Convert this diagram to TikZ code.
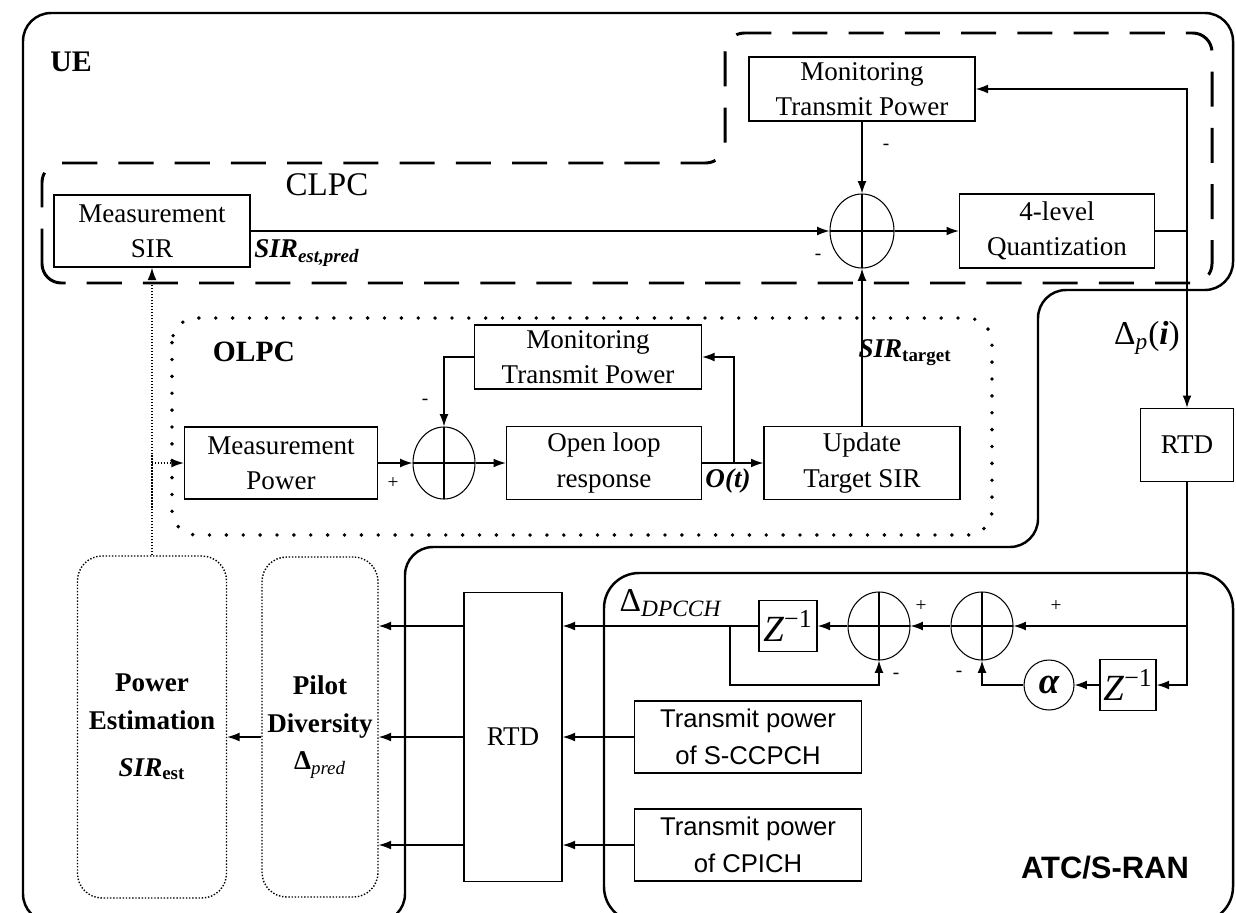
\documentclass[tikz,border=0pt]{standalone}
\usepackage{fontspec}
\setmainfont{Liberation Serif}
\setsansfont{Liberation Sans}
\usetikzlibrary{arrows.meta,shapes.geometric}

\begin{document}
\begin{tikzpicture}[
    font=\fontsize{15.4}{20}\selectfont,
    blk/.style    = {draw, line width=0.8pt, inner sep=0pt, align=center},
    sfbox/.style  = {blk, font=\sffamily\fontsize{14.6}{21}\selectfont},
    soft/.style   = {draw, densely dotted, line width=0.8pt, rounded corners=14pt,
                     inner sep=0pt, align=center,
                     font=\fontsize{15.4}{21.5}\selectfont\bfseries},
    sumj/.style   = {draw, ellipse, line width=0.6pt, inner sep=0pt,
                     path picture={\draw[line width=0.6pt]
                       (path picture bounding box.north) -- (path picture bounding box.south)
                       (path picture bounding box.west) -- (path picture bounding box.east);}},
    gain/.style   = {draw, circle, line width=0.6pt, inner sep=0pt, minimum size=1.0cm,
                     font=\fontsize{21}{22}\selectfont\bfseries\itshape},
    zbox/.style   = {blk, font=\fontsize{21}{22}\selectfont},
    sgn/.style    = {inner sep=0pt, font=\fontsize{11}{12}\selectfont},
    ln/.style     = {line width=0.7pt},
    arr/.style    = {-{Latex[length=7pt,width=5pt]}, line width=0.7pt},
    dotarr/.style = {arr, densely dotted},
    ueline/.style = {line width=1.4pt, rounded corners=16pt},
    clpcline/.style = {line width=1.7pt, rounded corners=11pt,
                       dash pattern=on 20pt off 12pt},
    olpcline/.style = {line width=2.2pt, rounded corners=14pt, line cap=round,
                       dash pattern=on 0pt off 9.6pt},
  ]

  \useasboundingbox (0,0) rectangle (24.72cm,-18.24cm);

  \draw[ueline] (0.46,-18.44) -- (0.46,-0.26) -- (24.66,-0.26) -- (24.66,-5.80)
    -- (20.76,-5.80) -- (20.76,-10.94) -- (8.10,-10.94) -- (8.10,-18.44) -- cycle;
  \draw[clpcline] (0.84,-5.66) -- (0.84,-3.26) -- (14.50,-3.26) -- (14.50,-0.66)
    -- (24.24,-0.66) -- (24.24,-5.66) -- cycle;
  \draw[olpcline] (3.44,-6.36) rectangle (19.84,-10.70);
  \draw[ueline, rounded corners=20pt] (12.08,-18.44) -- (12.08,-11.46)
    -- (24.66,-11.46) -- (24.66,-18.44) -- cycle;

  \node[font=\fontsize{17}{20}\selectfont\bfseries] (uelab) at (1.420cm, -1.240cm) {UE};
  \node[font=\fontsize{18.8}{20}\selectfont] (clpclab) at (6.540cm, -3.700cm) {CLPC};
  \node[font=\fontsize{16.8}{20}\selectfont\bfseries] (olpclab) at (5.080cm, -7.040cm) {OLPC};
  \node[font=\sffamily\bfseries\fontsize{17.6}{20}\selectfont] (atclab) at (22.100cm, -17.360cm) {ATC/S-RAN};

  \node[blk, minimum width=3.92cm, minimum height=1.44cm] (msir) at (3.040cm, -4.620cm) {Measurement\\SIR};
  \node[blk, minimum width=4.52cm, minimum height=1.28cm] (monC) at (17.240cm, -1.780cm) {Monitoring\\Transmit Power};
  \node[sumj, minimum width=1.28cm, minimum height=1.48cm] (sumC) at (17.240cm, -4.620cm) {};
  \node[blk, minimum width=3.90cm, minimum height=1.48cm] (quant) at (21.140cm, -4.620cm) {4-level\\Quantization};
  \node[blk, minimum width=1.86cm, minimum height=1.46cm] (rtd2) at (23.740cm, -8.900cm) {RTD};

  \node[blk, minimum width=4.54cm, minimum height=1.28cm] (monO) at (11.760cm, -7.140cm) {Monitoring\\Transmit Power};
  \node[blk, minimum width=3.86cm, minimum height=1.44cm] (mpow) at (5.620cm, -9.260cm) {Measurement\\Power};
  \node[sumj, minimum width=1.24cm, minimum height=1.44cm] (sumO) at (8.880cm, -9.260cm) {};
  \node[blk, minimum width=3.90cm, minimum height=1.46cm] (olr) at (12.080cm, -9.260cm) {Open loop\\response};
  \node[blk, minimum width=3.92cm, minimum height=1.46cm] (upd) at (17.240cm, -9.260cm) {Update\\Target SIR};

  \node[soft, minimum width=2.98cm, minimum height=6.84cm] (pest) at (3.040cm, -14.540cm)
    {Power\\Estimation\\[5pt]\textit{SIR}\textsubscript{est}};
  \node[soft, minimum width=2.32cm, minimum height=6.80cm] (pilot) at (6.400cm, -14.540cm)
    {Pilot\\Diversity\\Δ\textsubscript{\mdseries\itshape pred}};
  \node[blk, minimum width=1.96cm, minimum height=5.78cm] (rtd1) at (10.260cm, -14.740cm) {RTD};

  \node[zbox, minimum width=1.16cm, minimum height=1.02cm] (z1) at (15.760cm, -12.520cm) {\textit{Z}\textsuperscript{−1}};
  \node[sumj, minimum width=1.24cm, minimum height=1.36cm] (sumA) at (17.580cm, -12.520cm) {};
  \node[sumj, minimum width=1.24cm, minimum height=1.36cm] (sumB) at (19.640cm, -12.520cm) {};
  \node[gain] (alpha) at (20.980cm, -13.700cm) {α};
  \node[zbox, minimum width=1.12cm, minimum height=1.02cm] (z2) at (22.560cm, -13.700cm) {\textit{Z}\textsuperscript{−1}};
  \node[sfbox, minimum width=4.54cm, minimum height=1.44cm] (tpS) at (14.960cm, -14.740cm) {Transmit power\\of S-CCPCH};
  \node[sfbox, minimum width=4.54cm, minimum height=1.44cm] (tpC) at (14.960cm, -16.900cm) {Transmit power\\of CPICH};

  \node[font=\fontsize{15.4}{16}\selectfont] (sirestpred) at (6.140cm, -5.060cm)
    {\textbf{\textit{SIR}}\textsubscript{\textbf{\textit{est,pred}}}};
  \node[font=\fontsize{15.4}{16}\selectfont] (sirtarget) at (18.100cm, -7.060cm)
    {\textbf{\textit{SIR}}\textsubscript{\textbf{target}}};
  \node[font=\fontsize{15.4}{16}\selectfont\bfseries\itshape] (olab) at (14.560cm, -9.620cm) {O(t)};
  \node[font=\fontsize{19}{20}\selectfont] (dplab) at (22.940cm, -6.760cm) {Δ\textsubscript{\textit{p}}(\textbf{\textit{i}})};
  \node[font=\fontsize{19}{20}\selectfont] (ddpcch) at (13.420cm, -12.060cm) {Δ\textsubscript{\textit{DPCCH}}};

  \node[sgn] (sC1) at (17.720cm, -2.940cm) {-};
  \node[sgn] (sC2) at (16.360cm, -5.140cm) {-};
  \node[sgn] (sO1) at (8.500cm, -8.040cm) {-};
  \node[sgn] (sO2) at (7.860cm, -9.660cm) {+};
  \node[sgn] (sA1) at (18.420cm, -12.120cm) {+};
  \node[sgn] (sA2) at (17.920cm, -13.520cm) {-};
  \node[sgn] (sB1) at (21.120cm, -12.120cm) {+};
  \node[sgn] (sB2) at (19.180cm, -13.480cm) {-};

  \coordinate (qtap) at (23.740cm, -4.620cm);
  \coordinate (otap) at (14.680cm, -9.260cm);
  \coordinate (rtap) at (23.740cm, -12.520cm);
  \coordinate (fbtap) at (14.600cm, -12.520cm);
  \coordinate (fbbot) at (14.600cm, -13.700cm);
  \coordinate (stap) at (3.040cm, -9.260cm);

  \draw[arr] (msir.east) -- (sumC.west);
  \draw[arr] (monC.south) -- (sumC.north);
  \draw[arr] (sumC.east) -- (quant.west);
  \draw[ln] (quant.east) -- (qtap);
  \draw[arr] (qtap) |- (monC.east);
  \draw[arr] (qtap) -- (rtd2.north);
  \draw[arr] (upd.north) -- (sumC.south);

  \draw[arr] (mpow.east) -- (sumO.west);
  \draw[arr] (sumO.east) -- (olr.west);
  \draw[arr] (olr.east) -- (upd.west);
  \draw[arr] (otap) |- (monO.east);
  \draw[arr] (monO.west) -| (sumO.north);
  \draw[dotarr] (pest.north) -- (msir.south);
  \draw[dotarr] (stap) -- (mpow.west);

  \draw[ln] (rtd2.south) -- (rtap);
  \draw[arr] (rtap) -- (sumB.east);
  \draw[arr] (rtap) |- (z2.east);
  \draw[arr] (z2.west) -- (alpha.east);
  \draw[arr] (alpha.west) -| (sumB.south);
  \draw[arr] (sumB.west) -- (sumA.east);
  \draw[arr] (sumA.west) -- (z1.east);
  \draw[arr] (z1.west) -- (rtd1.east |- z1.west);
  \draw[arr] (fbtap) -- (fbbot) -| (sumA.south);
  \draw[arr] (tpS.west) -- (rtd1.east |- tpS.west);
  \draw[arr] (tpC.west) -- (rtd1.east |- tpC.west);

  \draw[arr] (rtd1.west |- z1.west) -- (pilot.east |- z1.west);
  \draw[arr] (rtd1.west |- tpS.west) -- (pilot.east |- tpS.west);
  \draw[arr] (rtd1.west |- tpC.west) -- (pilot.east |- tpC.west);
  \draw[arr] (pilot.west |- tpS.west) -- (pest.east |- tpS.west);

\end{tikzpicture}
\end{document}
